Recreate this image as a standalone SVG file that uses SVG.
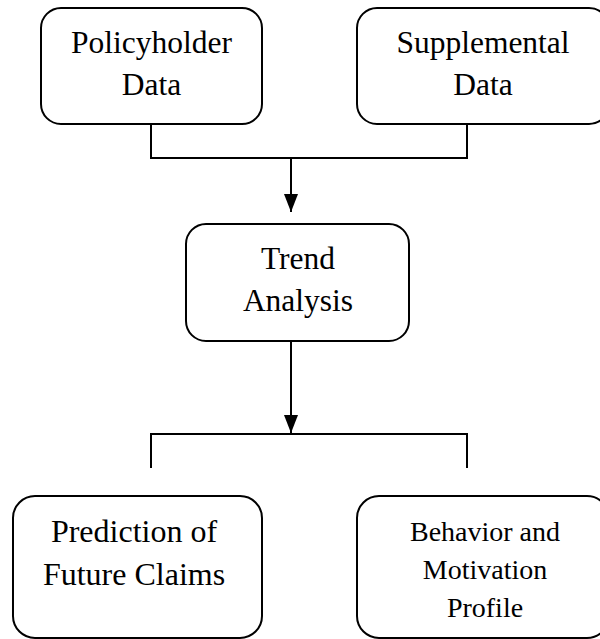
<svg xmlns="http://www.w3.org/2000/svg" width="600" height="639" viewBox="0 0 600 639">
<defs>
<style>
.box{fill:#fff;stroke:#000;stroke-width:2}
.t{font-family:"Liberation Serif","Times New Roman",serif;font-size:31.5px;fill:#000;text-anchor:middle}
.c{fill:none;stroke:#000;stroke-width:2}
</style>
<marker id="ah" markerWidth="18" markerHeight="14" refX="18" refY="7" orient="auto" markerUnits="userSpaceOnUse" viewBox="0 0 18 14">
<path d="M0,0 L18,7 L0,14 Z" fill="#000"/>
</marker>
</defs>
<g id="connectors">
<path class="c" d="M151,124 V158 H467 V124"/>
<path class="c" d="M291,158 V212" marker-end="url(#ah)"/>
<path class="c" d="M291,341 V433" marker-end="url(#ah)"/>
<path class="c" d="M151,468 V434 H467 V468"/>
</g>
<g id="policyholder">
<rect class="box" x="41" y="8" width="221" height="116" rx="20"/>
<text class="t" x="151.5" y="53">Policyholder</text>
<text class="t" x="151.5" y="95">Data</text>
</g>
<g id="supplemental">
<rect class="box" x="357" y="8" width="252" height="116" rx="20"/>
<text class="t" x="483" y="53">Supplemental</text>
<text class="t" x="483" y="95">Data</text>
</g>
<g id="trend">
<rect class="box" x="186" y="224" width="223" height="117" rx="20"/>
<text class="t" x="298" y="269">Trend</text>
<text class="t" x="298" y="311">Analysis</text>
</g>
<g id="prediction">
<rect class="box" x="13" y="496" width="249" height="142" rx="22"/>
<text class="t" x="134" y="542" style="font-size:32px">Prediction of</text>
<text class="t" x="134" y="585" style="font-size:32px">Future Claims</text>
</g>
<g id="behavior">
<rect class="box" x="357" y="496" width="252" height="142" rx="22"/>
<text class="t" x="485" y="541" style="font-size:28px">Behavior and</text>
<text class="t" x="485" y="579" style="font-size:28px">Motivation</text>
<text class="t" x="485" y="617" style="font-size:28px">Profile</text>
</g>
</svg>
